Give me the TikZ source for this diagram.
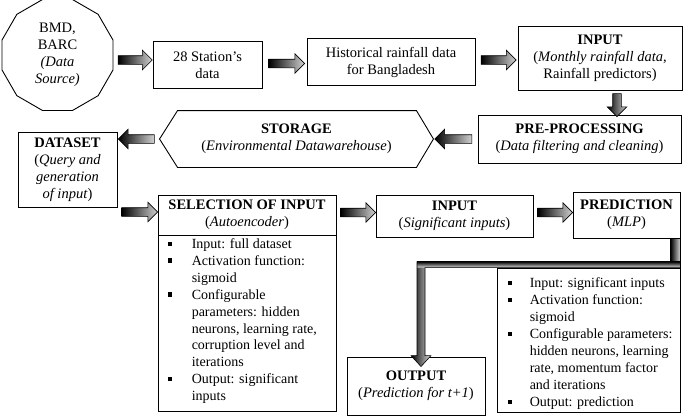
\documentclass[tikz,border=0pt]{standalone}
\usepackage{fontspec}
\setmainfont{Liberation Serif}
\usetikzlibrary{shapes.geometric,shapes.arrows,calc}
\newlength\bulw
\setlength\bulw{24pt}
\newcommand\bul{\makebox[\bulw][l]{\raisebox{2.5pt}{\rule{4.5pt}{4.5pt}}}}
\newcommand\ind{\hspace*{\bulw}}
\tikzset{
  box/.style={draw, line width=0.9pt, inner sep=0pt, align=center,
    font=\fontsize{14.5}{17}\selectfont},
  listtext/.style={inner sep=0pt, align=left, anchor=north west,
    font=\fontsize{14}{16.9}\selectfont},
  barrow/.style={single arrow, draw, line width=0.6pt, inner xsep=0pt, inner ysep=4pt,
    single arrow head extend=5.5pt, single arrow tip angle=90,
    left color=black, right color=black!18, anchor=center},
  bshade/.style={draw=none},
}
\begin{document}
\begin{tikzpicture}[x=1pt,y=-1pt]
\useasboundingbox (0,0) rectangle (685,418);

% nodes
\node[box, regular polygon, regular polygon sides=12, minimum size=115pt] (src) at (57.5,55)
  {BMD,\\BARC\\\textit{(Data}\\\textit{Source)}};
\node[box, minimum width=109pt, minimum height=47pt] (station) at (207.5,65) {28 Station’s\\data};
\node[box, minimum width=168pt, minimum height=47pt] (hist) at (391,62) {Historical rainfall data\\for Bangladesh};
\node[box, minimum width=164pt, minimum height=64pt] (input1) at (600,58)
  {\textbf{INPUT}\\(\textit{Monthly rainfall data},\\Rainfall predictors)};
\node[box, minimum width=203pt, minimum height=48pt] (preproc) at (579.5,139)
  {\textbf{PRE-PROCESSING}\\(\textit{Data filtering and cleaning})};
\node[box, draw=none, minimum width=273pt, minimum height=56pt] (storage) at (296.5,139)
  {\textbf{STORAGE}\\(\textit{Environmental Datawarehouse})};
\draw[line width=0.9pt] ([xshift=18pt]storage.north west) -- ([xshift=-17pt]storage.north east)
  -- (storage.east) -- ([xshift=-17pt]storage.south east) -- ([xshift=18pt]storage.south west)
  -- (storage.west) -- cycle;
\node[box, minimum width=99pt, minimum height=75pt] (dataset) at (67.5,169.5)
  {\textbf{DATASET}\\(\textit{Query and}\\\textit{generation}\\\textit{of input})};
\node[box, minimum width=178pt, minimum height=40pt] (selhead) at (247,215)
  {\textbf{SELECTION OF INPUT}\\(\textit{Autoencoder})};
\node[box, minimum width=178pt, minimum height=176pt, anchor=north] (selbody) at (selhead.south) {};
\node[listtext] (sellist) at ([xshift=10pt,yshift=-3pt]selbody.north west)
  {\bul Input: full dataset\\
   \bul Activation function:\\
   \ind sigmoid\\
   \bul Configurable\\
   \ind parameters: hidden\\
   \ind neurons, learning rate,\\
   \ind corruption level and\\
   \ind iterations\\
   \bul Output: significant\\
   \ind inputs};
\node[box, minimum width=157pt, minimum height=42pt] (input2) at (454.5,216)
  {\textbf{INPUT}\\(\textit{Significant inputs})};
\node[box, minimum width=107pt, minimum height=46pt] (pred) at (626.5,215)
  {\textbf{PREDICTION}\\(\textit{MLP})};
\node[box, minimum width=183pt, minimum height=144pt] (mlp) at (588.5,340) {};
\node[listtext, font=\fontsize{14}{17}\selectfont\setlength\bulw{22pt}] (mlplist) at ([xshift=11pt,yshift=-10pt]mlp.north west)
  {\bul Input: significant inputs\\
   \bul Activation function:\\
   \ind sigmoid\\
   \bul Configurable parameters:\\
   \ind hidden neurons, learning\\
   \ind rate, momentum factor\\
   \ind and iterations\\
   \bul Output: prediction};
\node[box, minimum width=138pt, minimum height=58pt] (output) at (416,386)
  {\textbf{OUTPUT}\\(\textit{Prediction for t+1})};

% block arrows
\node[barrow, minimum height=34pt, minimum width=19pt] (a1) at ($(src.east)!0.5!(station.west)$) {};
\node[barrow, minimum height=36pt, minimum width=19pt] (a2) at ($(station.east)!0.5!(hist.west)$) {};
\node[barrow, minimum height=35pt, minimum width=19pt] (a3) at ($(hist.east)!0.5!(input1.west)$) {};
\node[barrow, rotate=-90, minimum height=23pt, minimum width=19pt] (a4) at ($(input1.south)+(17,12.5)$) {};
\node[barrow, rotate=180, minimum height=37pt, minimum width=19pt] (a5) at ($(preproc.west)!0.5!(storage.east)$) {};
\node[barrow, rotate=180, minimum height=36pt, minimum width=19pt] (a6) at ($(storage.west)!0.5!(dataset.east |- storage.west)$) {};
\node[barrow, minimum height=36pt, minimum width=19pt] (a7) at ($(dataset.east |- selhead.west)!0.5!(selhead.west)+(0,-3)$) {};
\node[barrow, minimum height=35pt, minimum width=19pt] (a8) at ($(selhead.east)!0.5!(input2.west)+(0,-3)$) {};
\node[barrow, minimum height=35pt, minimum width=19pt] (a9) at ($(input2.east)!0.5!(pred.west)+(0,-3)$) {};

% bent arrow from prediction to output
\coordinate (s1) at ([xshift=-10pt]pred.south east);
\coordinate (s2) at (pred.south east);
\coordinate (c1) at (pred.south east |- mlp.north);
\coordinate (c2) at ([yshift=6pt]output.north -| mlp.north);
\coordinate (tip) at ([xshift=5pt,yshift=-10pt]output.north);
\shade[left color=black, right color=black!15] (s1) rectangle ($(c1)+(0,-6)$);
\shade[top color=black, bottom color=black!15] ($(tip |- mlp.north)+(-4,-6)$) rectangle (c1);
\shade[left color=black, right color=black!15]
  ($(tip |- mlp.north)+(-4,0)$) -- ($(tip)+(-4,-11)$) -- ($(tip)+(-10,-11)$) -- (tip)
  -- ($(tip)+(10,-11)$) -- ($(tip)+(4,-11)$) -- ($(tip |- mlp.north)+(4,0)$) -- cycle;
\draw[line width=0.6pt] (s1) -- (s2) -- (c1) -- ($(tip |- mlp.north)+(4,0)$) -- ($(tip)+(4,-11)$)
  -- ($(tip)+(10,-11)$) -- (tip) -- ($(tip)+(-10,-11)$) -- ($(tip)+(-4,-11)$)
  -- ($(tip |- mlp.north)+(-4,-6)$) -- ($(s1 |- mlp.north)+(0,-6)$) -- cycle;
\end{tikzpicture}
\end{document}
